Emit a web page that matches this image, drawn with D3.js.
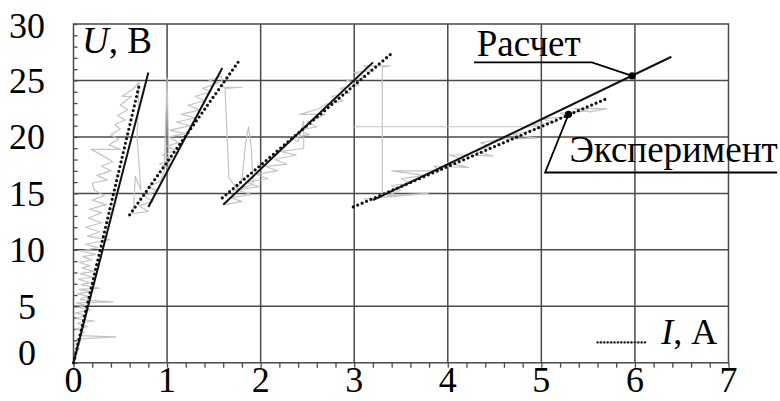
<!DOCTYPE html>
<html>
<head>
<meta charset="utf-8">
<script src="https://cdn.jsdelivr.net/npm/d3@7"></script>
<style>
  html, body { margin: 0; padding: 0; background: #fff; }
  text { font-family: "Liberation Serif", "Times New Roman", serif; fill: #000; }
</style>
</head>
<body>
<svg id="chart" width="780" height="401"></svg>
<script>
// Axis ticks
const xTicks = [0, 1, 2, 3, 4, 5, 6, 7];
const yTicks = [0, 5, 10, 15, 20, 25, 30];

// Calculated characteristic (solid), one segment per stage: [I, U]
const calcSegments = [
  [[0.00, 0.0], [0.80, 25.7]],
  [[0.80, 13.8], [1.59, 26.1]],
  [[1.60, 14.0], [3.20, 26.6]],
  [[3.20, 14.4], [6.39, 27.1]]
];

// Experimental fit (dotted), one segment per stage: [I, U]
const expSegments = [
  [[0.00, 0.0], [0.70, 24.5]],
  [[0.60, 13.1], [1.77, 26.75]],
  [[1.59, 14.6], [3.40, 27.4]],
  [[2.99, 13.8], [5.70, 23.4]]
];

// Raw measured trace (grey), stage by stage: [I, U]
const rawStage1 = [
  [0.00,0.0],[0.03,0.5],[0.01,0.9],[0.06,1.2],[0.02,1.6],[0.08,1.9],[0.03,2.1],[0.45,2.3],
  [0.05,2.4],[0.12,2.7],[0.02,3.0],[0.15,3.2],[0.04,3.5],[0.22,3.7],[0.03,3.9],[0.13,4.2],
  [0.02,4.4],[0.18,4.7],[0.05,4.9],[0.12,5.1],[0.03,5.3],[0.42,5.4],[0.07,5.6],[0.15,5.9],
  [0.04,6.1],[0.19,6.3],[0.06,6.5],[0.28,6.6],[0.08,6.9],[0.17,7.1],[0.05,7.4],[0.20,7.6],
  [0.07,7.9],[0.22,8.1],[0.09,8.4],[0.17,8.6],[0.06,8.9],[0.20,9.1],[0.10,9.4],[0.24,9.6],
  [0.08,9.9],[0.26,10.2],[0.13,10.5],[0.39,10.9],[0.15,11.2],[0.28,11.6],[0.13,12.0],[0.30,12.4],
  [0.16,12.8],[0.30,13.3],[0.17,13.6],[0.35,14.0],[0.20,14.4],[0.33,14.8],[0.22,15.3],[0.20,15.9],
  [0.36,16.2],[0.25,16.6],[0.40,17.0],[0.30,17.4],[0.42,17.8],[0.32,18.3],[0.19,18.9],[0.50,18.9],
  [0.38,19.3],[0.48,19.8],[0.40,20.2],[0.50,20.7],[0.44,21.1],[0.55,21.5],[0.47,21.9],[0.58,22.4],
  [0.50,22.8],[0.62,23.6],[0.52,23.6],[0.63,24.2],[0.70,24.8],[0.68,20.0],[0.72,15.3],[0.66,16.5],
  [0.64,13.4]
];
const rawStage2 = [
  [0.62,13.2],[0.80,13.4],[0.70,13.9],[0.85,14.3],[0.75,14.8],[0.90,15.2],[0.80,15.6],[0.93,16.1],
  [0.97,17.0],[1.00,25.2],[1.02,17.2],[0.92,17.6],[1.05,18.0],[0.95,18.4],[1.08,18.8],[1.00,19.2],
  [1.12,19.5],[1.02,20.0],[1.20,20.3],[1.03,20.6],[1.25,21.0],[1.10,21.3],[1.30,21.7],[1.15,22.0],
  [1.35,22.4],[1.22,22.8],[1.40,23.2],[1.30,23.6],[1.47,24.0],[1.38,24.3],[1.55,24.8],[1.45,25.0],
  [1.58,25.4],[1.60,24.4],[1.80,24.4],[1.62,24.3],[1.66,16.4],[1.75,15.4],[1.80,16.2],[1.84,19.5],
  [1.87,20.9],[1.90,19.0],[1.92,15.8],[1.70,15.2]
];
const rawStage3 = [
  [1.62,14.0],[1.80,14.3],[1.68,14.6],[1.90,14.9],[1.75,15.3],[1.98,15.6],[1.85,16.0],[2.08,16.3],
  [1.95,16.7],[2.18,17.0],[2.05,17.4],[2.28,17.6],[2.15,18.0],[2.38,18.4],[2.22,18.7],[2.46,19.0],
  [2.46,21.4],[2.40,19.6],[2.32,19.9],[2.52,20.2],[2.42,20.6],[2.60,20.9],[2.50,21.3],[2.69,22.0],
  [2.42,22.0],[2.62,22.5],[2.70,22.9],[2.88,23.2],[2.76,23.6],[2.95,23.9],[2.85,24.3],[3.05,24.6],
  [2.92,25.0],[3.12,25.3],[3.00,25.7],[3.20,25.9],[3.10,26.3],[3.38,26.3],[3.30,26.2],[3.30,14.6]
];
const rawStage4 = [
  [3.10,14.5],[3.79,15.0],[3.35,14.8],[3.50,15.3],[3.40,15.7],[3.60,15.9],[3.50,16.3],[3.75,16.6],
  [3.40,17.0],[3.92,17.0],[3.85,17.4],[4.22,17.3],[4.00,17.7],[4.15,18.0],[4.02,18.4],[4.22,18.4],
  [4.48,18.3],[4.30,18.7],[4.45,19.2],[4.35,19.5],[4.60,19.8],[4.95,19.9],[4.70,20.2],[4.85,20.5],
  [5.00,20.9],[3.00,20.9],[5.00,20.9],[4.90,21.1],[5.15,21.3],[5.00,21.6],[5.30,21.8],[5.20,22.1],
  [5.50,22.3],[5.35,22.5],[5.70,22.5],[5.50,22.2]
];

// Marked points and their captions (data units)
const calcMarker = [5.97, 25.4];
const expMarker = [5.29, 22.0];
const calcCaption = { text: "Расчет", at: [4.31, 27.15], rule: [[4.28, 26.6], [5.54, 26.6]] };
const expCaption = { text: "Эксперимент", at: [5.30, 17.75], rule: [[7.52, 16.85], [5.04, 16.85]] };

const svg = d3.select("#chart");
const margin = { left: 73.5, right: 51.5, top: 24, bottom: 38.2 };
const W = 780, H = 401;

const x = d3.scaleLinear().domain([0, 7]).range([margin.left, W - margin.right]);
const y = d3.scaleLinear().domain([0, 30]).range([H - margin.bottom, margin.top]);

const gridColor = "#4a4a4a";

// grid
const grid = svg.append("g");
grid.selectAll("line.v").data(xTicks.slice(1, -1)).join("line")
  .attr("x1", d => x(d)).attr("x2", d => x(d))
  .attr("y1", y(0)).attr("y2", y(30))
  .attr("stroke", gridColor).attr("stroke-width", 1.5);
grid.selectAll("line.h").data(yTicks.slice(1, -1)).join("line")
  .attr("x1", x(0)).attr("x2", x(7))
  .attr("y1", d => y(d)).attr("y2", d => y(d))
  .attr("stroke", gridColor).attr("stroke-width", 1.5);
grid.append("rect")
  .attr("x", x(0)).attr("y", y(30))
  .attr("width", x(7) - x(0)).attr("height", y(0) - y(30))
  .attr("fill", "none").attr("stroke", gridColor).attr("stroke-width", 1.5);

// minor ticks
const xAxis = svg.append("g").attr("transform", `translate(0,${y(0)})`)
  .call(d3.axisBottom(x).tickValues(d3.range(0, 36).map(i => i / 5)).tickSize(5).tickFormat(""));
xAxis.select(".domain").remove();
xAxis.selectAll("line").attr("stroke", gridColor).attr("stroke-width", 1.3);

const yAxis = svg.append("g").attr("transform", `translate(${x(0)},0)`)
  .call(d3.axisRight(y).tickValues(d3.range(0, 31)).tickSize(4).tickFormat(""));
yAxis.select(".domain").remove();
yAxis.selectAll("line").attr("stroke", gridColor).attr("stroke-width", 1.3);

// tick labels
svg.append("g").selectAll("text").data(xTicks).join("text")
  .attr("x", d => x(d)).attr("y", 392)
  .attr("text-anchor", "middle").attr("font-size", 36)
  .text(d => d);
svg.append("g").selectAll("text").data(yTicks).join("text")
  .attr("x", 27)
  .attr("y", d => Math.min(Math.max(y(d), y(30) + 2), y(0) - 10))
  .attr("dy", "0.34em")
  .attr("text-anchor", "middle").attr("font-size", 36)
  .text(d => d);

const line = d3.line().x(d => x(d[0])).y(d => y(d[1]));

// raw trace
svg.append("g").selectAll("path").data([rawStage1, rawStage2, rawStage3, rawStage4]).join("path")
  .attr("d", line).attr("fill", "none")
  .attr("stroke", "#c4c4c4").attr("stroke-width", 1.2).attr("stroke-linejoin", "round");

// calculated
svg.append("g").selectAll("path").data(calcSegments).join("path")
  .attr("d", line).attr("fill", "none")
  .attr("stroke", "#111").attr("stroke-width", 2);

// experimental fit (dotted)
svg.append("g").selectAll("path").data(expSegments).join("path")
  .attr("d", line).attr("fill", "none")
  .attr("stroke", "#111").attr("stroke-width", 3.2)
  .attr("stroke-linecap", "round").attr("stroke-dasharray", "0 4.8");

// markers
svg.append("g").selectAll("circle").data([calcMarker, expMarker]).join("circle")
  .attr("cx", d => x(d[0])).attr("cy", d => y(d[1])).attr("r", 3.6).attr("fill", "#000");

// callouts
function callout(c, marker) {
  svg.append("path")
    .attr("d", line([c.rule[0], c.rule[1], marker]))
    .attr("fill", "none").attr("stroke", "#000").attr("stroke-width", 1.8);
  svg.append("text")
    .attr("x", x(c.at[0])).attr("y", y(c.at[1]))
    .attr("font-size", 37).text(c.text);
}
callout(calcCaption, calcMarker);
callout(expCaption, expMarker);

// axis titles
const uTitle = svg.append("text").attr("x", x(0.09)).attr("y", y(27.4)).attr("font-size", 37);
uTitle.append("tspan").attr("font-style", "italic").text("U");
uTitle.append("tspan").text(", В");

// current title with a dotted sample
svg.append("line")
  .attr("x1", x(5.6)).attr("x2", x(6.11)).attr("y1", y(1.8)).attr("y2", y(1.8))
  .attr("stroke", "#bbb").attr("stroke-width", 2);
svg.append("line")
  .attr("x1", x(5.6)).attr("x2", x(6.11)).attr("y1", y(1.8)).attr("y2", y(1.8))
  .attr("stroke", "#111").attr("stroke-width", 2.2)
  .attr("stroke-linecap", "round").attr("stroke-dasharray", "0 3.4");
const iTitle = svg.append("text").attr("x", x(6.28)).attr("y", y(1.7)).attr("font-size", 36);
iTitle.append("tspan").attr("font-style", "italic").text("I");
iTitle.append("tspan").text(", А");
</script>
</body>
</html>
